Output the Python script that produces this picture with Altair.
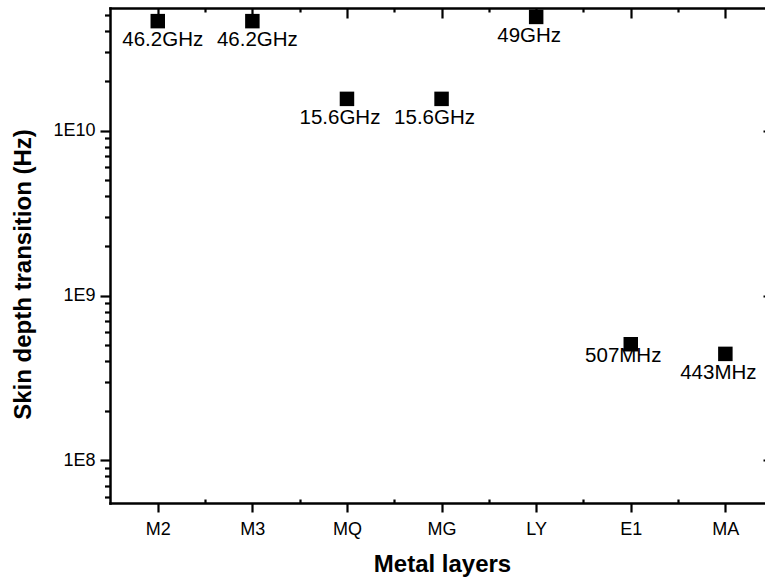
import altair as alt
import pandas as pd

# ---- data ----
metal_layers = ["M2", "M3", "MQ", "MG", "LY", "E1", "MA"]
transition_hz = [46.2e9, 46.2e9, 15.6e9, 15.6e9, 49e9, 507e6, 443e6]
point_labels = ["46.2GHz", "46.2GHz", "15.6GHz", "15.6GHz", "49GHz", "507MHz", "443MHz"]

y_major_ticks = [1e8, 1e9, 1e10]
y_minor_ticks = [6e7, 7e7, 8e7, 9e7,
                 2e8, 3e8, 4e8, 5e8, 6e8, 7e8, 8e8, 9e8,
                 2e9, 3e9, 4e9, 5e9, 6e9, 7e9, 8e9, 9e9,
                 2e10, 3e10, 4e10, 5e10]
x_major_ticks = [0, 1, 2, 3, 4, 5, 6]
x_minor_ticks = [0.5, 1.5, 2.5, 3.5, 4.5, 5.5]

df = pd.DataFrame({
    "layer": metal_layers,
    "idx": list(range(len(metal_layers))),
    "freq": transition_hz,
    "label": point_labels,
})

W, H = 655, 495
FONT = "Liberation Sans, Arial, sans-serif"
ANN_SIZE = 20.5
INK = "#010101"

xs = alt.Scale(domain=[-0.505, 6.419], nice=False, zero=False)
ys = alt.Scale(type="log", domain=[5.52e7, 5.55e10], nice=False)

label_expr_x = str(metal_layers) + "[round(datum.value)]"

ax_bottom = alt.Axis(orient="bottom", values=x_major_ticks, labelExpr=label_expr_x,
                     title="Metal layers", tickSize=9, labelPadding=8,
                     titleX=332, titleY=68, titleBaseline="alphabetic", titleAlign="center")
ax_left = alt.Axis(orient="left", values=y_major_ticks,
                   labelExpr="'1E' + round(log(datum.value)/LN10)",
                   title="Skin depth transition (Hz)", tickSize=10, labelPadding=5,
                   titleX=-79.5, titleY=266, titleAngle=270,
                   titleBaseline="alphabetic", titleAlign="center")
ax_top = alt.Axis(orient="bottom", offset=-H, values=x_major_ticks, labels=False,
                  title="", tickSize=10, tickColor=INK, domainColor=INK)
ax_right = alt.Axis(orient="left", offset=-W, values=y_major_ticks, labels=False,
                    title="", tickSize=2, domain=False, tickColor=INK)
ax_bottom_minor = alt.Axis(orient="top", offset=-H, values=x_minor_ticks, labels=False,
                           title="", tickSize=4, domain=False, tickColor=INK)
ax_left_minor = alt.Axis(orient="left", values=y_minor_ticks, labels=False,
                         title="", tickSize=5.5, domain=False, tickColor=INK)
ax_top_minor = alt.Axis(orient="bottom", offset=-H, values=x_minor_ticks, labels=False,
                        title="", tickSize=4, domain=False, tickColor=INK)

base = alt.Chart(df)

points = base.mark_square(size=210, color="black", opacity=1).encode(
    x=alt.X("idx:Q", scale=xs, axis=ax_bottom),
    y=alt.Y("freq:Q", scale=ys, axis=ax_left),
)

text_a = base.transform_filter(
    alt.FieldOneOfPredicate(field="label", oneOf=["46.2GHz"])
).mark_text(dx=5, dy=25, baseline="alphabetic", align="center",
            font=FONT, fontSize=ANN_SIZE, color="black").encode(
    x=alt.X("idx:Q", scale=xs, axis=ax_top),
    y=alt.Y("freq:Q", scale=ys, axis=ax_right),
    text="label:N",
)

text_b = base.transform_filter(
    alt.FieldOneOfPredicate(field="label", oneOf=["15.6GHz", "49GHz", "443MHz"])
).mark_text(dx=-7, dy=25, baseline="alphabetic", align="center",
            font=FONT, fontSize=ANN_SIZE, color="black").encode(
    x=alt.X("idx:Q", scale=xs, axis=ax_bottom_minor),
    y=alt.Y("freq:Q", scale=ys, axis=ax_left_minor),
    text="label:N",
)

text_c = base.transform_filter(
    alt.FieldOneOfPredicate(field="label", oneOf=["507MHz"])
).mark_text(dx=-7.5, dy=18, baseline="alphabetic", align="center",
            font=FONT, fontSize=ANN_SIZE, color="black").encode(
    x=alt.X("idx:Q", scale=xs, axis=ax_top_minor),
    y=alt.Y("freq:Q", scale=ys, axis=None),
    text="label:N",
)

chart = alt.layer(points, text_a, text_b, text_c).resolve_axis(
    x="independent", y="independent"
).properties(
    width=W, height=H,
    autosize=alt.AutoSizeParams(type="none"),
    padding={"left": 110, "top": 8, "right": 0, "bottom": 80},
).configure_view(
    stroke="transparent"
).configure_axis(
    grid=False,
    domainColor="black", domainWidth=2.5, domainCap="square",
    tickColor="black", tickWidth=2.2,
    labelColor="black", labelFont=FONT, labelFontSize=18,
    titleColor="black", titleFont=FONT, titleFontSize=24, titleFontWeight="bold",
)

chart.save("out.html", embed_options={"renderer": "svg", "actions": False})
